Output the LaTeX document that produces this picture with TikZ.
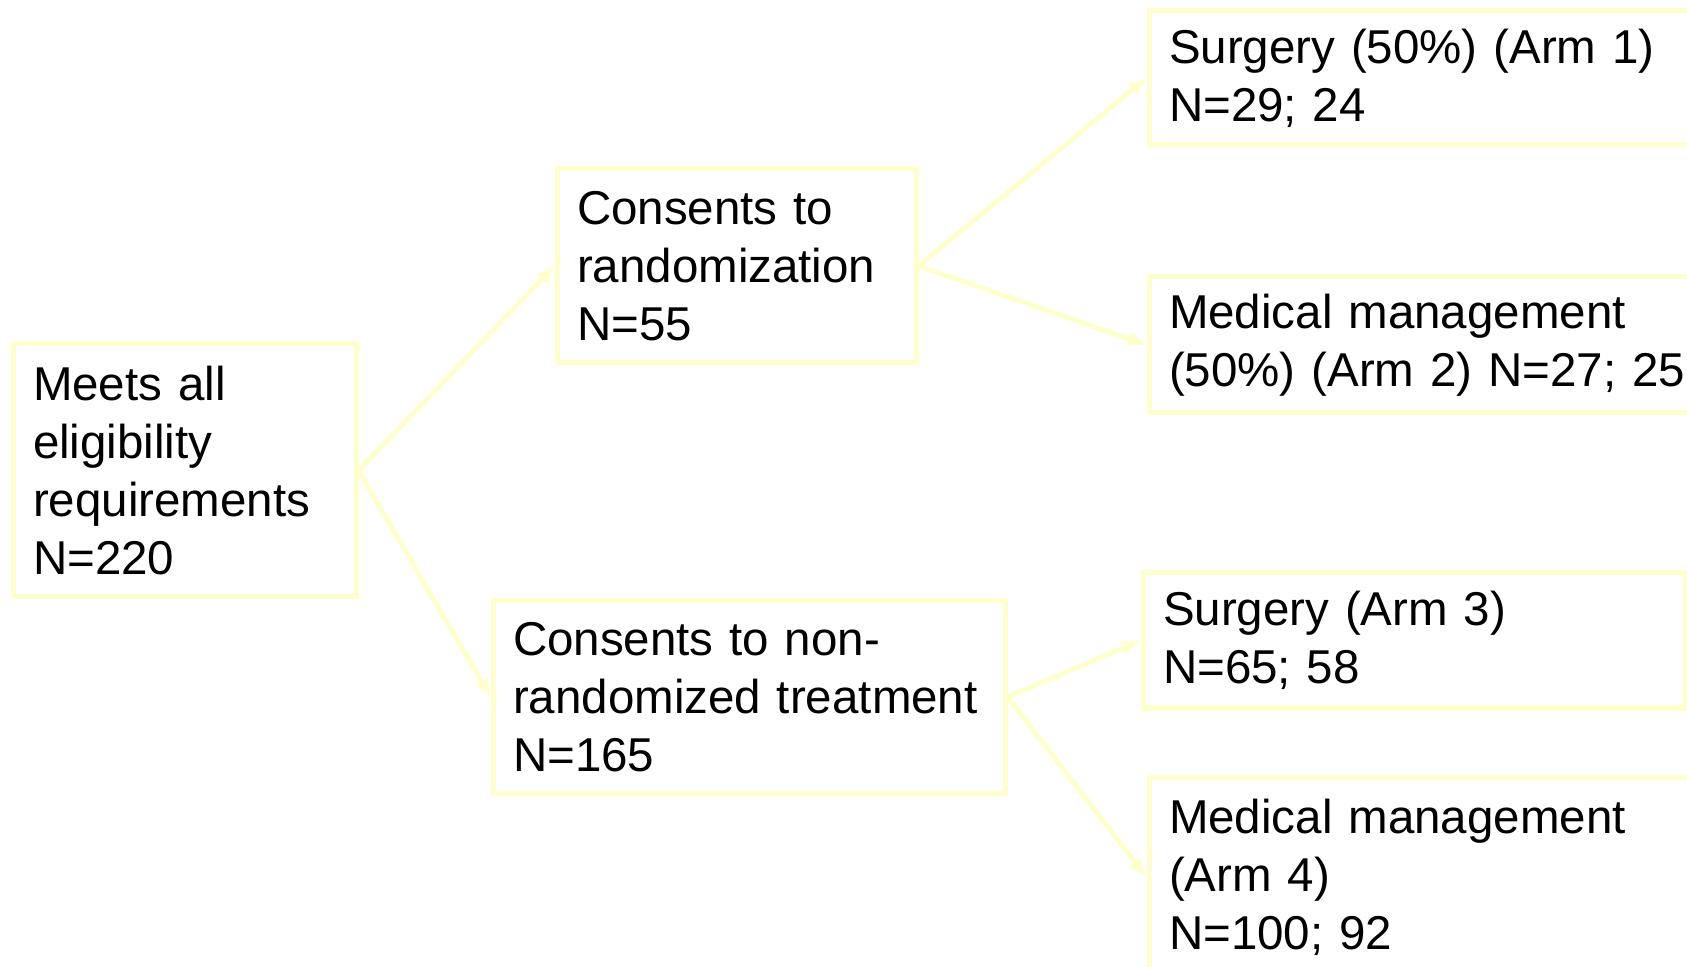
\documentclass[tikz,border=0pt]{standalone}
\usepackage{fontspec}
\setmainfont{Liberation Sans}[WordSpace=0.9]
\usepackage{tikz}
\usetikzlibrary{arrows.meta}
\definecolor{paleyellow}{RGB}{255,255,204}

\begin{document}
\begin{tikzpicture}[x=0.5pt,y=-0.5pt,
  box/.style={draw=paleyellow,line width=2.5pt,rectangle,inner xsep=10pt,inner ysep=0pt,
    align=left,font=\fontsize{23.75pt}{29pt}\selectfont},
  link/.style={draw=paleyellow,line width=2.5pt,-{Latex[length=9pt,width=8pt]}}]
\useasboundingbox (0,0) rectangle (1687,967);
\clip (0,0) rectangle (1687,967);

\node [box,minimum width=171.5pt,minimum height=126.5pt,text width=151.5pt] (a) at (184.5,470.5)
  {Meets all\\eligibility\\requirements\\N=220};
\node [box,minimum width=179.5pt,minimum height=97pt,text width=159.5pt] (b) at (736.5,266)
  {Consents to\\randomization\\N=55};
\node [box,minimum width=256pt,minimum height=96pt,text width=236pt] (c) at (749,697)
  {Consents to non-\\randomized treatment\\N=165};

\node [box,minimum width=285.5pt,minimum height=67pt,text width=265.5pt] (d) at (1434.5,78)
  {Surgery (50\%) (Arm 1)\\N=29; 24};
\node [box,minimum width=285.5pt,minimum height=68pt,text width=265.5pt] (e) at (1434.5,345)
  {Medical management\\(50\%) (Arm 2) N=27; 25};
\node [box,minimum width=271pt,minimum height=67.5pt,text width=251pt] (f) at (1414,640.5)
  {Surgery (Arm 3)\\N=65; 58};
\node [box,minimum width=285.5pt,minimum height=100pt,text width=265.5pt] (g) at (1434.5,877)
  {Medical management\\(Arm 4)\\N=100; 92};

\draw [link] (a.east) -- (b.west);
\draw [link] (a.east) -- (c.west);
\draw [link] (b.east) -- (d.west);
\draw [link] (b.east) -- (e.west);
\draw [link] (c.east) -- (f.west);
\draw [link] (c.east) -- (g.west);
\end{tikzpicture}
\end{document}
